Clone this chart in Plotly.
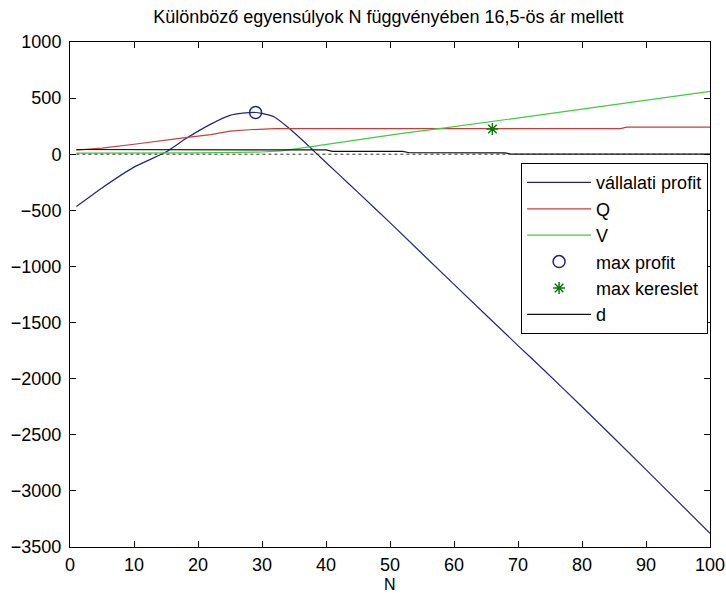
import plotly.graph_objects as go

# Firm count axis and series (read at selected N values)
profit_n = [1, 5, 10, 15, 18, 22, 25, 27, 29, 30, 31, 32, 34, 37, 39, 42, 45, 50, 60, 70, 74, 80, 90, 100]
profit_v = [-465, -300, -115, 20, 135, 268, 346, 366, 372, 364, 350, 330, 242, 89, -20, -180, -340,
            -610, -1160, -1705, -1920, -2250, -2810, -3378]

q_n = [1, 5, 10, 15, 18, 22, 25, 28, 30, 32, 86, 87, 100]
q_v = [36, 55, 89, 122, 148, 175, 205, 218, 226, 228, 228, 242, 242]

v_n = [1, 20, 30, 33, 38.5, 42, 51.6, 58.3, 66, 80, 100]
v_v = [10, 12, 20, 30, 74, 105, 184, 232, 290, 402, 561]

d_n = [1, 40, 41, 52, 53, 68, 69, 100]
d_v = [42, 38, 25, 25, 13, 12, 0, 0]

zero_n = [1, 100]
zero_v = [0, 0]

max_profit_n = [29]
max_profit_v = [372]
max_demand_n = [66]
max_demand_v = [225]

title_text = "Különböző egyensúlyok N függvényében 16,5-ös ár mellett"
x_label = "N"
font_family = "Liberation Sans, Arial, sans-serif"

fig = go.Figure()
fig.add_trace(go.Scatter(x=profit_n, y=profit_v, mode="lines", name="vállalati profit",
                         line=dict(color="#24247e", width=1.2, shape="spline", smoothing=0.4),
                         legendgroup="a"))
fig.add_trace(go.Scatter(x=q_n, y=q_v, mode="lines", name="Q",
                         line=dict(color="#cc3b3b", width=1.2), legendgroup="b"))
fig.add_trace(go.Scatter(x=v_n, y=v_v, mode="lines", name="V",
                         line=dict(color="#3ccf3c", width=1.2), legendgroup="c"))
fig.add_trace(go.Scatter(x=max_profit_n, y=max_profit_v, mode="markers", name="max profit",
                         marker=dict(symbol="circle-open", size=12, color="#24247e",
                                     line=dict(width=1.5)), legendgroup="d"))
fig.add_trace(go.Scatter(x=max_demand_n, y=max_demand_v, mode="markers", name="max kereslet",
                         marker=dict(symbol="asterisk-open", size=10, color="#0a7a0a",
                                     line=dict(width=1.5, color="#0a7a0a")), legendgroup="e"))
fig.add_trace(go.Scatter(x=d_n, y=d_v, mode="lines", name="d",
                         line=dict(color="#111111", width=1.2), legendgroup="f"))
fig.add_trace(go.Scatter(x=zero_n, y=zero_v, mode="lines", showlegend=False,
                         line=dict(color="#333333", width=1, dash="dot")))

axis_common = dict(showline=True, linecolor="black", linewidth=1, mirror="ticks",
                   ticks="inside", ticklen=6, tickcolor="black", showgrid=False,
                   zeroline=False, automargin=False,
                   tickfont=dict(size=18, color="black", family=font_family))

fig.update_xaxes(range=[0, 100], dtick=10, tick0=0, ticklabelstandoff=1, **axis_common)
fig.update_yaxes(range=[-3500, 1000], dtick=500, tick0=0, ticklabelstandoff=4,
                 **axis_common)

# x-axis label placed just under the tick labels
fig.add_annotation(text=x_label, xref="paper", yref="paper", x=0.5, y=-0.074,
                   xanchor="center", yanchor="middle", showarrow=False,
                   font=dict(size=16, color="black", family=font_family))

fig.update_layout(
    width=726, height=595,
    margin=dict(l=70, r=16, t=42, b=48),
    paper_bgcolor="white", plot_bgcolor="white",
    font=dict(family=font_family, size=18, color="black"),
    title=dict(text=title_text, x=0.535, xanchor="center", y=0.972, yanchor="middle",
               font=dict(size=18, color="black", family=font_family)),
    legend=dict(x=0.997, y=0.76, xanchor="right", yanchor="top",
                bgcolor="white", bordercolor="black", borderwidth=1,
                font=dict(size=18, color="black", family=font_family),
                traceorder="grouped", tracegroupgap=0, itemwidth=64),
    showlegend=True,
)

fig.write_html("out.html")
